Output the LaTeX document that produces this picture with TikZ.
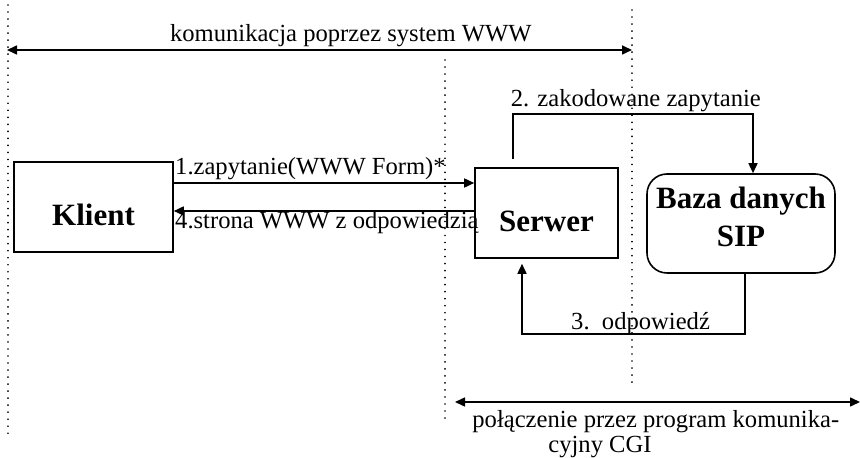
\documentclass[tikz,border=0pt]{standalone}
\usepackage{fontspec}
\setmainfont{Liberation Serif}
\usetikzlibrary{arrows.meta}

\begin{document}
\begin{tikzpicture}[x=0.5pt, y=-0.5pt,
    box/.style={draw, line width=0.8pt, align=center, inner sep=0pt, font=\fontsize{15.5}{19}\selectfont\bfseries},
    arrow/.style={-{Triangle[length=5pt,width=4.5pt]}, line width=0.8pt},
    twoway/.style={{Triangle[length=5pt,width=4.5pt]}-{Triangle[length=5pt,width=4.5pt]}, line width=0.8pt},
    guide/.style={line width=0.9pt, line cap=round, dash pattern=on 0.01pt off 3.5pt},
    lbl/.style={font=\fontsize{12.3}{12.5}\selectfont, inner sep=0pt}
]
\useasboundingbox (0,0) rectangle (860,458);

% dotted boundaries
\draw[guide] (8,5) -- (8,440);
\draw[guide] (445,60) -- (445,422);
\draw[guide] (632,10) -- (632,385);

% Boxes
\node[box, minimum width=79.5pt, minimum height=45pt, text height=19pt, text depth=0pt] (klient) at (93.5,207) {Klient};
\node[box, minimum width=71.5pt, minimum height=45pt, text height=19pt, text depth=0pt] (serwer) at (546.5,213) {Serwer};
\node[box, rounded corners=10pt, minimum width=94pt, minimum height=49.5pt, text depth=7pt] (baza) at (741,223.5) {Baza danych\\SIP};

% Range arrows
\coordinate (wwwL) at (7,50);
\coordinate (wwwR) at (632,50);
\draw[twoway] (wwwL) -- (wwwR) node[lbl, pos=0.55, anchor=base, yshift=4pt] {komunikacja poprzez system WWW};

\coordinate (cgiL) at (455,402);
\coordinate (cgiR) at (860,402);
\draw[twoway] (cgiL) -- (cgiR);
\node[lbl, align=left, anchor=north west] (cgi) at (472,410) {połączenie przez program komunika-\\\hspace*{38pt}cyjny CGI};

% Klient <-> Serwer
\coordinate (k1) at ([yshift=12pt]klient.east);
\draw[arrow] (k1) -- (k1 -| serwer.west);
\node[lbl, anchor=base west] (q1) at ([yshift=4pt,xshift=0.5pt]k1) {1.zapytanie(WWW Form)*};

\coordinate (k4) at ([yshift=-2pt]klient.east);
\draw[arrow] (k4 -| serwer.west) -- (k4);
\node[lbl, anchor=base west] (q4) at ([yshift=-9pt,xshift=0.5pt]k4) {4.strona WWW z odpowiedzią};

% Serwer <-> Baza
\coordinate (s2) at ([xshift=-16.75pt,yshift=4pt]serwer.north);
\draw[arrow] (s2) -- ++(0,-45) node[lbl, anchor=base west, xshift=-1.5pt, yshift=4pt] {2. zakodowane zapytanie} -| ([xshift=6pt]baza.north);

\coordinate (b3) at ([xshift=2pt]baza.south);
\coordinate (s3) at ([xshift=-12.25pt,yshift=-2.5pt]serwer.south);
\draw[arrow] (b3) -- ++(0,60) -| node[lbl, pos=0.27, anchor=base, xshift=8pt, yshift=2pt] {3.\ \ odpowiedź} (s3);
\end{tikzpicture}
\end{document}
